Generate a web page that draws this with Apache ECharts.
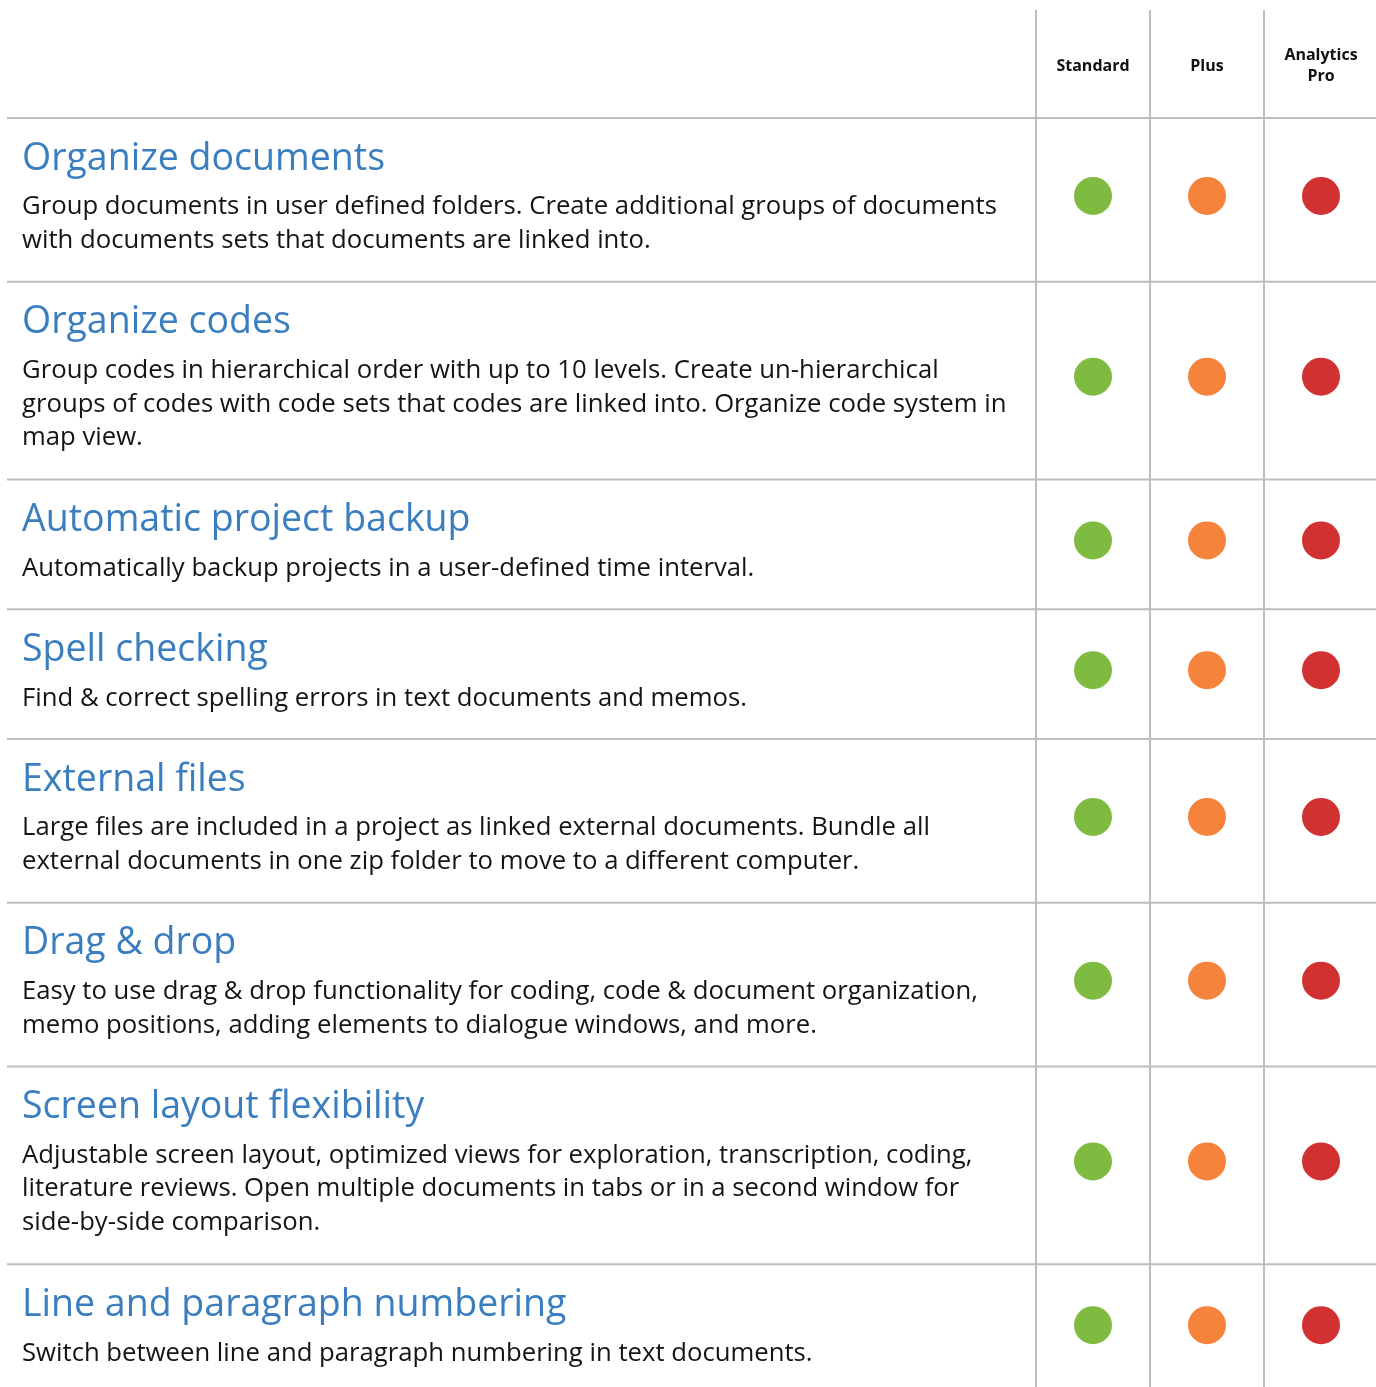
<!DOCTYPE html>
<html>
<head>
<meta charset="utf-8">
<script src="https://cdn.jsdelivr.net/npm/echarts@6/dist/echarts.min.js"></script>
<style>
html,body{margin:0;padding:0;background:#fff;}
#chart{width:1376px;height:1387px;}
</style>
</head>
<body>
<div id="chart"></div>
<script>
// ---- data ----
var plans = ['Standard', 'Plus', 'Analytics\nPro'];
var planColors = ['#80bb41', '#f5833b', '#d13131'];
var featureTitles = [
  'Organize documents',
  'Organize codes',
  'Automatic project backup',
  'Spell checking',
  'External files',
  'Drag & drop',
  'Screen layout flexibility',
  'Line and paragraph numbering'
];
var featureDescriptions = [
  ['Group documents in user defined folders. Create additional groups of documents',
   'with documents sets that documents are linked into.'],
  ['Group codes in hierarchical order with up to 10 levels. Create un-hierarchical',
   'groups of codes with code sets that codes are linked into. Organize code system in',
   'map view.'],
  ['Automatically backup projects in a user-defined time interval.'],
  ['Find & correct spelling errors in text documents and memos.'],
  ['Large files are included in a project as linked external documents. Bundle all',
   'external documents in one zip folder to move to a different computer.'],
  ['Easy to use drag & drop functionality for coding, code & document organization,',
   'memo positions, adding elements to dialogue windows, and more.'],
  ['Adjustable screen layout, optimized views for exploration, transcription, coding,',
   'literature reviews. Open multiple documents in tabs or in a second window for',
   'side-by-side comparison.'],
  ['Switch between line and paragraph numbering in text documents.']
];
// availability per feature: [Standard, Plus, Analytics Pro]
var availability = [
  [1,1,1],[1,1,1],[1,1,1],[1,1,1],[1,1,1],[1,1,1],[1,1,1],[1,1,1]
];

// ---- derived row extents (in axis units) ----
var rows = [];
var acc = 0;
featureTitles.forEach(function (t, i) {
  var h = 129.75 + 34 * (featureDescriptions[i].length - 1);
  rows.push([i, acc, acc + h]);
  acc += h;
});
var HEADER = 108;
var VIEW_MAX = 1387 - 10 - HEADER;

var dotSeries = plans.map(function (p, c) {
  var data = [];
  rows.forEach(function (r, i) {
    if (availability[i][c]) data.push([p, (r[1] + r[2]) / 2]);
  });
  return {
    type: 'scatter',
    data: data,
    symbol: 'circle',
    symbolSize: 38,
    symbolOffset: [0, -4],
    itemStyle: { color: planColors[c], opacity: 1 },
    silent: true,
    clip: false,
    z: 5
  };
});

var FONT = '"Open Sans", "Noto Sans", sans-serif';

var chart = echarts.init(document.getElementById('chart'), null, { renderer: 'canvas' });
chart.setOption({
  animation: false,
  backgroundColor: '#ffffff',
  grid: { left: 1036, right: -2, top: 10, bottom: 0, containLabel: false, outerBoundsMode: 'none' },
  xAxis: {
    type: 'category',
    data: plans,
    position: 'top',
    boundaryGap: true,
    axisLine: { show: false },
    axisTick: { show: false },
    axisLabel: {
      inside: true,
      margin: 56,
      verticalAlign: 'middle',
      fontFamily: FONT,
      fontWeight: 'bold',
      fontSize: 16,
      lineHeight: 21,
      color: '#111111',
      interval: 0
    },
    splitLine: { show: true, interval: 0, lineStyle: { color: '#bdbdbd', width: 2 } }
  },
  yAxis: {
    type: 'value',
    inverse: true,
    min: -HEADER,
    max: VIEW_MAX,
    show: false,
    splitLine: { show: false }
  },
  series: [{
    type: 'custom',
    data: rows,
    clip: false,
    silent: true,
    renderItem: function (params, api) {
      var i = api.value(0);
      var y0 = api.coord([0, api.value(1)])[1];
      var children = [{
        type: 'line',
        shape: { x1: 7, y1: y0, x2: api.getWidth(), y2: y0 },
        style: { stroke: '#bdbdbd', lineWidth: 2 }
      }, {
        type: 'text',
        style: {
          text: featureTitles[i], x: 22, y: y0 + 41,
          verticalAlign: 'middle', align: 'left',
          font: '37.5px ' + FONT, fill: '#3a7ec0'
        }
      }];
      featureDescriptions[i].forEach(function (line, k) {
        children.push({
          type: 'text',
          style: {
            text: line, x: 22, y: y0 + 89 + k * 33.5,
            verticalAlign: 'middle', align: 'left',
            font: '25.7px ' + FONT, fill: '#141414'
          }
        });
      });
      return { type: 'group', children: children };
    },
    z: 3
  }].concat(dotSeries)
});
</script>
</body>
</html>
